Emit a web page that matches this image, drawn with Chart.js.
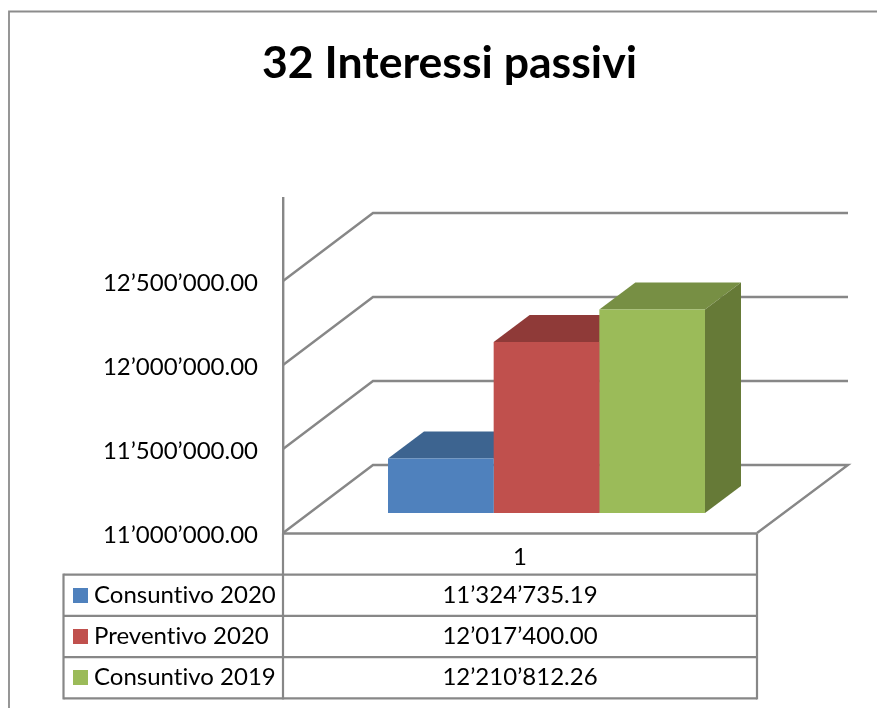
<!DOCTYPE html>
<html><head><meta charset="utf-8">
<style>html,body{margin:0;padding:0;background:#fff}canvas{display:block}#w{position:relative;width:877px;height:708px}</style>
<script src="https://cdn.jsdelivr.net/npm/chart.js@4"></script>
</head><body><div id="w"><canvas id="c"></canvas></div>
<script>
const titleText = "32 Interessi passivi";
const categories = ["1"];
const seriesNames = ["Consuntivo 2020", "Preventivo 2020", "Consuntivo 2019"];
const consuntivo2020 = [11324735.19];
const preventivo2020 = [12017400.00];
const consuntivo2019 = [12210812.26];
const seriesValues = [consuntivo2020, preventivo2020, consuntivo2019];
const tickValues = [11000000, 11500000, 12000000, 12500000];
const frontColors = ["#4F81BD", "#C0504D", "#9BBB59"];
const topColors = ["#3D6490", "#8F3A38", "#778F44"];
const sideColors = ["#355778", "#7A3230", "#667A37"];
const axisMin = 11000000;

const FONT = "Lato, Carlito, sans-serif";
const TXT = 24;
const GRID = "#878787";
const fmt = v => v.toFixed(2).replace(/\B(?=(\d{3})+(?!\d))/g, "\u2019");

const depthX = 90, depthY = 68;      // wall perspective
const barDX = 36, barDY = 27;        // bar perspective
const floorRight = 757, wallRight = 848;
const tableLeft = 63.5, rowH = 41.2, tableTop = 533.5, swatch = 15;

function line(ctx, pts, w) {
  ctx.beginPath();
  pts.forEach((p, i) => i ? ctx.lineTo(p[0], p[1]) : ctx.moveTo(p[0], p[1]));
  ctx.lineWidth = w; ctx.strokeStyle = GRID; ctx.stroke();
}
const poly = (ctx, pts, col) => {
  ctx.beginPath();
  pts.forEach((p, i) => i ? ctx.lineTo(p[0], p[1]) : ctx.moveTo(p[0], p[1]));
  ctx.closePath(); ctx.fillStyle = col; ctx.fill();
};

const scene3d = {
  id: "scene3d",
  beforeDatasetsDraw(chart) {
    const ctx = chart.ctx, sy = chart.scales.y, x0 = chart.chartArea.left;
    ctx.save();
    ctx.lineJoin = "miter";
    // frame
    ctx.lineWidth = 1.8; ctx.strokeStyle = "#8c8c8c";
    ctx.beginPath(); ctx.moveTo(9, 708); ctx.lineTo(9, 11.5); ctx.lineTo(877, 11.5); ctx.stroke();
    // title
    ctx.font = "bold 44.6px " + FONT;
    ctx.fillStyle = "#000"; ctx.textAlign = "center"; ctx.textBaseline = "middle";
    ctx.fillText(titleText, 449.5, 64);
    // walls and axis tick labels
    sy.ticks.forEach((t, i) => {
      const y = sy.getPixelForValue(t.value);
      const yb = y - depthY;
      if (i === 0) line(ctx, [[x0, y], [x0 + depthX, yb], [wallRight, yb], [floorRight, y]], 2.4);
      else line(ctx, [[x0, y], [x0 + depthX, yb], [wallRight, yb]], 2.4);
      ctx.font = TXT + "px " + FONT;
      ctx.fillStyle = "#000"; ctx.textAlign = "right"; ctx.textBaseline = "middle";
      ctx.fillText(fmt(t.value), 258, y + 2);
    });
    // bar depth faces
    chart.data.datasets.forEach((d, i) => {
      const b = chart.getDatasetMeta(i).data[0];
      const L = b.x - b.width / 2, R = b.x + b.width / 2, T = b.y, B = b.base;
      poly(ctx, [[L, T], [R, T], [R + barDX, T - barDY], [L + barDX, T - barDY]], topColors[i]);
      poly(ctx, [[R, T], [R + barDX, T - barDY], [R + barDX, B - barDY], [R, B]], sideColors[i]);
    });
    ctx.restore();
  },
  afterDatasetsDraw(chart) {
    const ctx = chart.ctx, x0 = chart.chartArea.left;
    ctx.save();
    const rows = seriesNames.length;
    // table lines
    line(ctx, [[x0, tableTop], [floorRight, tableTop]], 2.4);
    for (let r = 1; r <= rows + 1; r++) {
      line(ctx, [[tableLeft, tableTop + r * rowH], [floorRight, tableTop + r * rowH]], 2.2);
    }
    line(ctx, [[tableLeft, tableTop + rowH - 1.1], [tableLeft, tableTop + (rows + 1) * rowH + 1.1]], 2.2);
    line(ctx, [[x0, tableTop], [x0, tableTop + (rows + 1) * rowH + 1.1]], 2.2);
    line(ctx, [[floorRight, tableTop], [floorRight, tableTop + (rows + 1) * rowH + 1.1]], 2.2);
    // text
    ctx.font = TXT + "px " + FONT;
    if ("letterSpacing" in ctx) ctx.letterSpacing = "0.01px";
    ctx.fillStyle = "#000";
    ctx.textBaseline = "middle";
    const cx = (x0 + floorRight) / 2;
    ctx.textAlign = "center";
    ctx.fillText(categories[0], cx, tableTop + rowH / 2 + 3);
    seriesNames.forEach((n, r) => {
      const cy = tableTop + (r + 1) * rowH + rowH / 2;
      ctx.fillStyle = frontColors[r];
      ctx.fillRect(73, Math.round(cy - swatch / 2), swatch, swatch);
      ctx.fillStyle = "#000";
      ctx.textAlign = "left";
      ctx.fillText(n, 94, cy);
      ctx.textAlign = "center";
      ctx.fillText(fmt(seriesValues[r][0]), cx, cy);
    });
    ctx.restore();
  }
};

new Chart(document.getElementById("c"), {
  type: "bar",
  data: {
    labels: categories,
    datasets: seriesNames.map((n, i) => ({
      label: n, data: seriesValues[i], backgroundColor: frontColors[i],
      yAxisID: "y1", base: axisMin, borderWidth: 0
    }))
  },
  plugins: [scene3d],
  options: {
    responsive: true, maintainAspectRatio: false, animation: false,
    layout: { padding: { left: 0, right: 67, top: 198, bottom: 175 } },
    datasets: { bar: { barPercentage: 1, categoryPercentage: 0.6015 } },
    plugins: {
      legend: { display: false }, tooltip: { enabled: false }, title: { display: false }
    },
    scales: {
      x: { display: false },
      y: {
        position: "left", min: axisMin, max: axisMin + 1994000,
        afterFit(s) { s.width = 283; },
        afterBuildTicks(s) { s.ticks = tickValues.map(v => ({ value: v })); },
        grid: { display: false, drawTicks: false, tickLength: 0 },
        border: { display: true, color: GRID, width: 2.4 },
        ticks: { display: false }
      },
      y1: { display: false, min: axisMin - 119000, max: axisMin - 119000 + 1994000 }
    }
  }
});
</script></body></html>
